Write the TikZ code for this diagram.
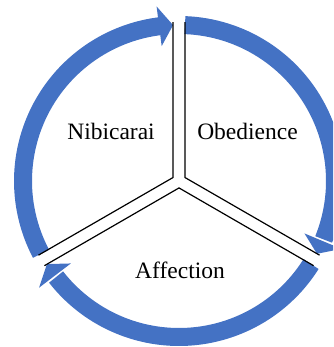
\documentclass[tikz,border=0pt]{standalone}
\usepackage{fontspec}
\setmainfont{Liberation Serif}
\usetikzlibrary{calc}
\definecolor{ringblue}{HTML}{4472C4}
\begin{document}
\begin{tikzpicture}[x=1pt,y=1pt,
  ring/.style={draw=ringblue,line width=18pt},
  head/.style={fill=ringblue},
  divider/.style={draw=black,line width=1.2pt,line join=miter},
  lbl/.style={font=\fontsize{23.5}{28}\selectfont,text=black,inner sep=0pt,anchor=base}]
\clip (0,0) rectangle (333,-347);
\coordinate (O) at (179,-181);
% ring arrows
\draw[ring] ($(O)+(207.82:156)$) arc[start angle=207.82,end angle=96.6,radius=156];
\fill[head] ($(O)+(97.32:176)$) -- ($(O)+(92.18:156)$) -- ($(O)+(97.32:136)$) -- cycle;
\draw[ring] ($(O)+(87.82:156)$) arc[start angle=87.82,end angle=-22.0,radius=156];
\fill[head] ($(O)+(-22.68:176)$) -- ($(O)+(-27.82:156)$) -- ($(O)+(-22.68:136)$) -- cycle;
\draw[ring] ($(O)+(-32.18:156)$) arc[start angle=-32.18,end angle=-142.0,radius=156];
\fill[head] ($(O)+(-142.68:176)$) -- ($(O)+(-147.82:156)$) -- ($(O)+(-142.68:136)$) -- cycle;
% Y divider
\coordinate (cUL) at ($(O)+(150:6.93)$);
\coordinate (cUR) at ($(O)+(30:6.93)$);
\coordinate (cB) at ($(O)+(270:6.93)$);
\coordinate (eVL) at ($(O)+(92.18:159)$);
\coordinate (eVR) at ($(O)+(87.82:159)$);
\coordinate (eLU) at ($(O)+(207.82:159)$);
\coordinate (eLL) at ($(O)+(212.18:159)$);
\coordinate (eRU) at ($(O)+(-27.82:159)$);
\coordinate (eRL) at ($(O)+(-32.18:159)$);
\draw[divider] (eVL) -- (cUL) -- (eLU);
\draw[divider] (eVR) -- (cUR) -- (eRU);
\draw[divider] (eLL) -- (cB) -- (eRL);
% labels
\node[lbl] (nib) at (111,-140) {Nibicarai};
\node[lbl] (obe) at (247.5,-140) {Obedience};
\node[lbl] (aff) at (180,-278) {Affection};
\end{tikzpicture}
\end{document}
